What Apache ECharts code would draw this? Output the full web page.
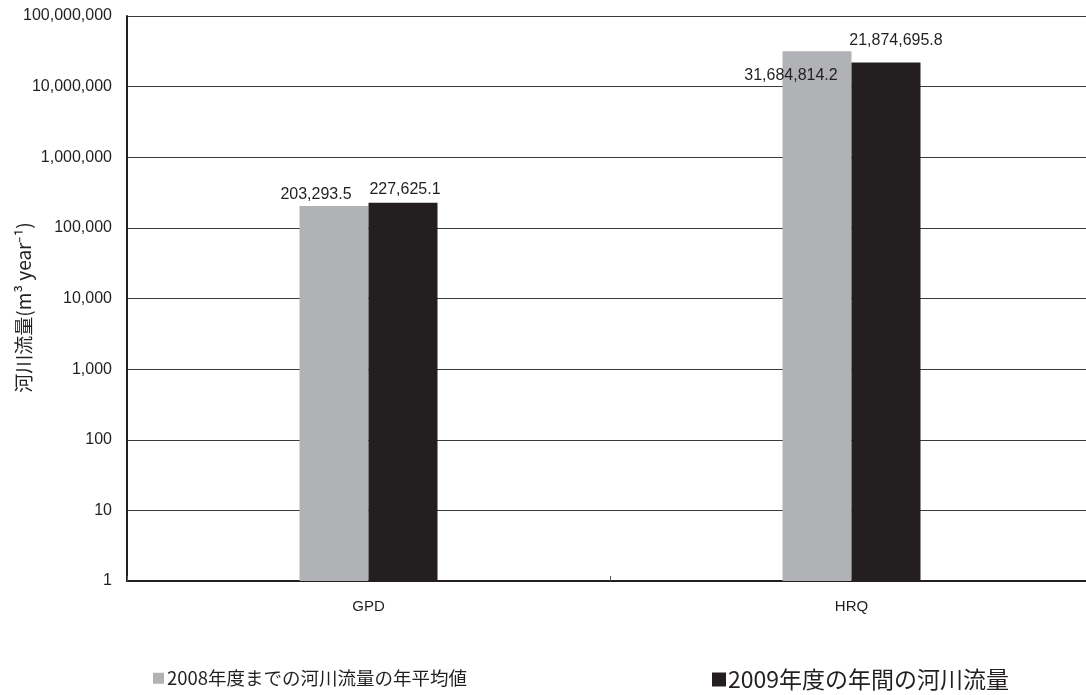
<!DOCTYPE html>
<html>
<head>
<meta charset="utf-8">
<script src="https://cdn.jsdelivr.net/npm/echarts@6/dist/echarts.min.js"></script>
<style>
html,body{margin:0;padding:0;background:#fff;}
#c{width:1086px;height:695px;}
</style>
</head>
<body>
<div id="c"></div>
<script>
const categories = ['GPD', 'HRQ'];
const seriesNames = ['2008年度までの河川流量の年平均値', '2009年度の年間の河川流量'];
const avgTo2008 = [203293.5, 31684814.2];
const flow2009 = [227625.1, 21874695.8];
const yTicks = [1, 10, 100, 1000, 10000, 100000, 1000000, 10000000, 100000000];

const numFont = '"Liberation Sans Narrow", "Liberation Sans", Arial, sans-serif';
const cjkFont = '"Noto Sans CJK JP", sans-serif';

function fmt(v) {
  return v.toLocaleString('en-US', {minimumFractionDigits: 1, maximumFractionDigits: 1});
}

const labelOffsetsA = [[-18, 1], [-26, 37]];
const labelOffsetsB = [[2, 0], [10, -9]];

function mkData(vals, offs) {
  return vals.map((v, i) => ({
    value: v,
    label: {offset: offs[i]}
  }));
}

const chart = echarts.init(document.getElementById('c'), null, {renderer: 'canvas'});
chart.setOption({
  animation: false,
  backgroundColor: '#ffffff',
  grid: {left: 127, right: -7, top: 16, bottom: 114, containLabel: false, outerBoundsMode: 'none'},
  legend: [
    {
      data: [seriesNames[0]], left: 153, top: 669, padding: 0,
      itemWidth: 11, itemHeight: 11, icon: 'rect', itemGap: 5,
      textStyle: {fontFamily: cjkFont, fontSize: 18.5, color: '#231f20', padding: [0, 0, 0, -2]}
    },
    {
      data: [seriesNames[1]], left: 712, top: 668, padding: 0,
      itemWidth: 14, itemHeight: 14, icon: 'rect', itemGap: 5,
      textStyle: {fontFamily: cjkFont, fontSize: 23, color: '#231f20', padding: [0, 0, 0, -3]}
    }
  ],
  xAxis: {
    type: 'category',
    data: categories,
    axisLine: {show: true, lineStyle: {color: '#231f20', width: 2}},
    axisTick: {show: true, inside: true, length: 5, lineStyle: {color: '#555', width: 1}},
    axisLabel: {fontFamily: '"Liberation Sans", Arial, sans-serif', fontSize: 15, color: '#231f20', margin: 18}
  },
  yAxis: {
    type: 'log',
    logBase: 10,
    min: yTicks[0],
    max: yTicks[yTicks.length - 1],
    name: '河川流量(m³ year⁻¹)',
    nameLocation: 'middle',
    nameGap: 94,
    nameMoveOverlap: false,
    nameRotate: 90,
    nameTextStyle: {fontFamily: cjkFont, fontSize: 19, color: '#231f20', padding: [0, 18, 0, 0]},
    axisLine: {show: true, lineStyle: {color: '#231f20', width: 2}},
    axisTick: {show: false},
    splitLine: {show: true, lineStyle: {color: '#3a3a3a', width: 1}},
    axisLabel: {
      fontFamily: '"Liberation Sans", Arial, sans-serif', fontSize: 16, color: '#231f20', margin: 15,
      formatter: v => Math.round(v).toLocaleString('en-US')
    }
  },
  series: [
    {
      name: seriesNames[0],
      type: 'bar',
      data: mkData(avgTo2008, labelOffsetsA),
      barWidth: 69,
      barGap: '0%',
      itemStyle: {color: '#b1b2b6'},
      label: {show: true, position: 'top', distance: 5, fontFamily: numFont, fontSize: 16, color: '#231f20',
        formatter: p => fmt(p.value)}
    },
    {
      name: seriesNames[1],
      type: 'bar',
      data: mkData(flow2009, labelOffsetsB),
      barWidth: 69,
      barGap: '0%',
      itemStyle: {color: '#231f20'},
      label: {show: true, position: 'top', distance: 5, fontFamily: numFont, fontSize: 16, color: '#231f20',
        formatter: p => fmt(p.value)}
    }
  ]
});
</script>
</body>
</html>
